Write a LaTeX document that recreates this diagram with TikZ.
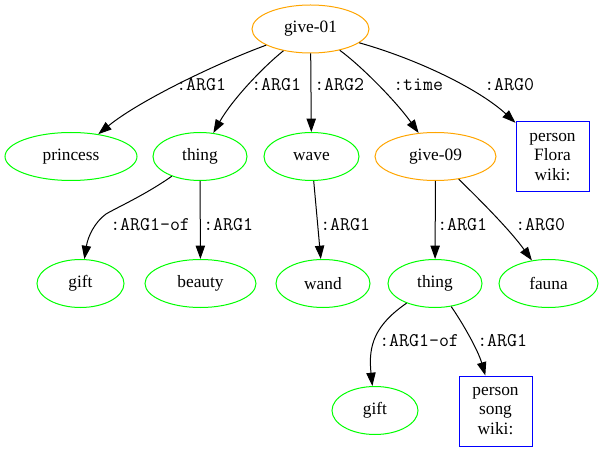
\documentclass[tikz,border=0pt]{standalone}
\usepackage{fontspec}
\setmainfont{Liberation Serif}
\usetikzlibrary{shapes.geometric,arrows.meta}
\definecolor{gvorange}{HTML}{FFA500}
\definecolor{gvgreen}{HTML}{00FF00}
\definecolor{gvblue}{HTML}{0000FF}

\begin{document}
\begin{tikzpicture}[x=0.75pt,y=-0.75pt,
  concept/.style={ellipse, draw=gvgreen, line width=0.75pt, inner sep=0pt,
    minimum height=36pt, minimum width=#1*1.5pt,
    font=\fontsize{13}{15}\selectfont},
  frame/.style={concept=#1, draw=gvorange},
  entity/.style={rectangle, draw=gvblue, line width=0.75pt, inner sep=0pt,
    minimum width=54.75pt, minimum height=52.5pt, align=center,
    font=\fontsize{13}{14.5}\selectfont},
  edge/.style={draw=black, line width=0.75pt,
    -{Triangle[length=10pt,width=7pt]}},
  role/.style={anchor=west, inner sep=0pt,
    font=\ttfamily\fontsize{14.5}{16}\selectfont}]

\useasboundingbox (0,0) rectangle (603,452);

% concepts
\node[frame=58.5]   (give01)   at (310.5,29)    {give-01};
\node[concept=66]   (princess) at (71,156.5)    {princess};
\node[concept=47]   (thingA)   at (200,156.5)   {thing};
\node[concept=47.5] (wave)     at (311.5,156.5) {wave};
\node[frame=60.5]   (give09)   at (435.5,156.5) {give-09};
\node[entity]       (flora)    at (552.5,157)   {person\\Flora\\wiki:};
\node[concept=43.5] (giftA)    at (80.5,283.5)  {gift};
\node[concept=55.5] (beauty)   at (200.5,283.5) {beauty};
\node[concept=47]   (wand)     at (323,283.5)   {wand};
\node[concept=47]   (thingB)   at (435,283.5)   {thing};
\node[concept=49.5] (fauna)    at (548.5,283.5) {fauna};
\node[concept=43]   (giftB)    at (375,410.5)   {gift};
\node[entity]       (song)     at (495.5,411)   {person\\song\\wiki:};

% relations
\draw[edge] (give01) .. controls (220,62) and (140,100) .. (princess);
\draw[edge] (give01) .. controls (262,68) and (232,100) .. (thingA);
\draw[edge] (give01) -- (wave);
\draw[edge] (give01) .. controls (360,65) and (395,100) .. (give09);
\draw[edge] (give01) .. controls (420,60) and (480,90) .. (flora);
\draw[edge] (thingA) .. controls (145,195) and (118,207) .. (106,214)
                     .. controls (95,222) and (88,236) .. (giftA);
\draw[edge] (thingA) -- (beauty);
\draw[edge] (wave) -- (wand);
\draw[edge] (give09) -- (thingB);
\draw[edge] (give09) .. controls (480,200) and (510,230) .. (fauna);
\draw[edge] (thingB) .. controls (375,325) and (368,345) .. (giftB);
\draw[edge] (thingB) .. controls (462,322) and (478,350) .. (song);

% role labels
\node[role] (r1)  at (176,85)  {:ARG1};
\node[role] (r2)  at (251,85)  {:ARG1};
\node[role] (r3)  at (314,85)  {:ARG2};
\node[role] (r4)  at (393,85)  {:time};
\node[role] (r5)  at (484,85)  {:ARG0};
\node[role] (r6)  at (110,225) {:ARG1-of};
\node[role] (r7)  at (203,225) {:ARG1};
\node[role] (r8)  at (320,225) {:ARG1};
\node[role] (r9)  at (437,225) {:ARG1};
\node[role] (r10) at (515,225) {:ARG0};
\node[role] (r11) at (379,341) {:ARG1-of};
\node[role] (r12) at (477,341) {:ARG1};
\end{tikzpicture}
\end{document}
